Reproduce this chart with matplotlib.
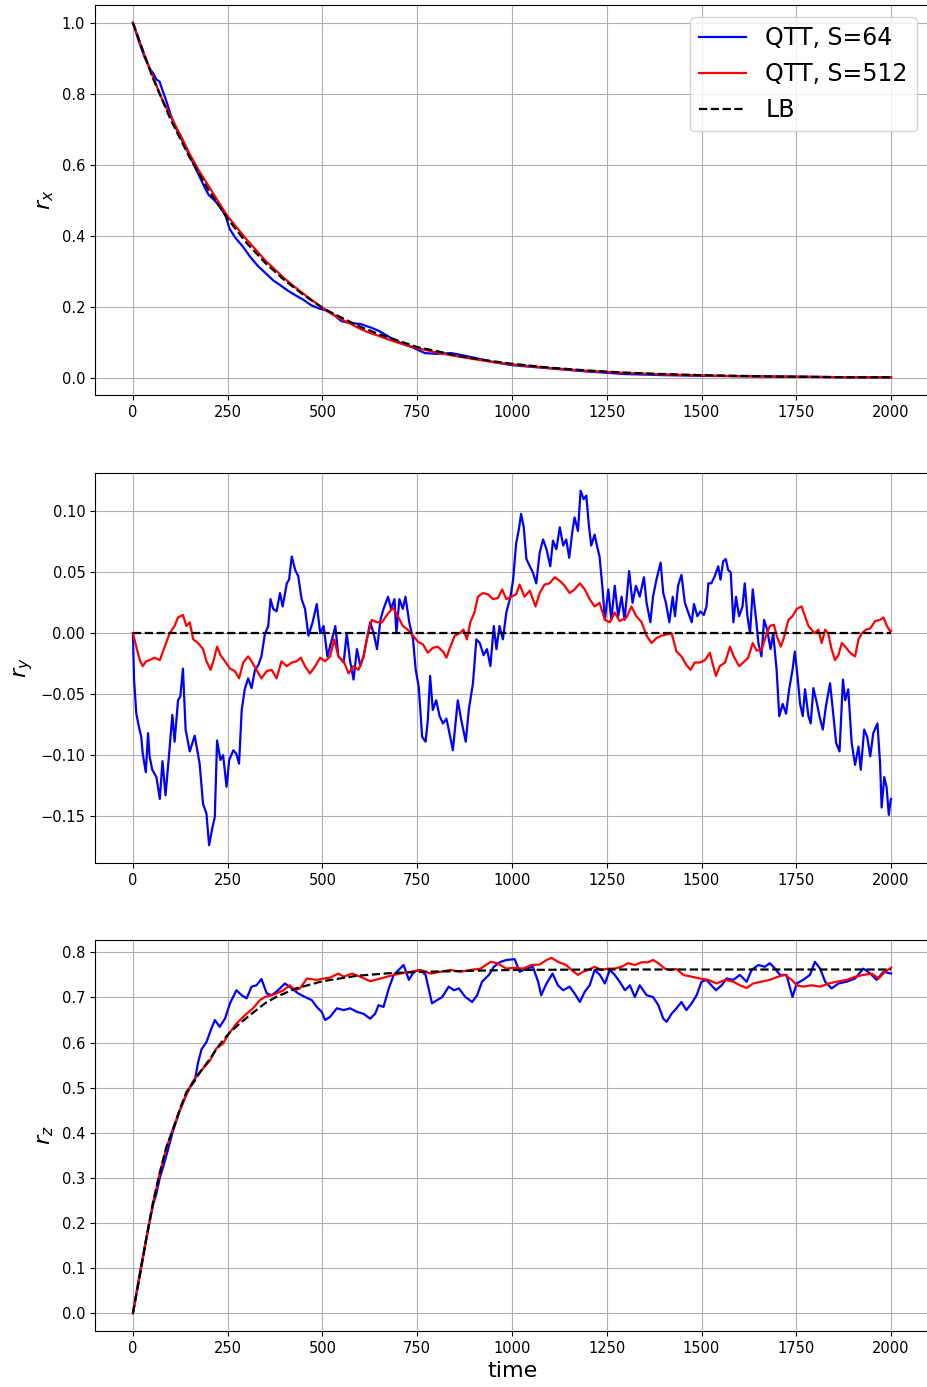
import matplotlib
matplotlib.use("Agg")
import matplotlib.pyplot as plt
import numpy as np

# ---------------- r_x ----------------
t_rx_lb = [0, 50, 100, 150, 200, 250, 300, 350, 400, 450, 500, 550, 600, 650, 700, 750, 800, 850, 900, 950,
           1000, 1100, 1200, 1300, 1400, 1500, 1600, 1700, 1800, 1900, 2000]
rx_lb = [1.0, 0.851, 0.726, 0.62, 0.528, 0.448, 0.380, 0.323, 0.275, 0.234, 0.197, 0.170, 0.144, 0.123, 0.105,
         0.087, 0.076, 0.064, 0.055, 0.047, 0.040, 0.029, 0.021, 0.015, 0.011, 0.008, 0.006, 0.004, 0.003, 0.002, 0.002]

t_rx_64 = [0, 15, 30, 45, 55, 62, 70, 78, 88, 100, 115, 130, 150, 170, 190, 200, 215, 230, 245, 255, 270, 290,
           310, 330, 350, 370, 390, 410, 430, 450, 470, 490, 510, 530, 550, 570, 600, 630, 650, 680, 710, 740,
           770, 800, 840, 870, 900, 950, 1000, 1100, 1200, 1300, 1400, 1500, 1600, 1700, 1800, 1900, 2000]
rx_64 = [1.0, 0.95, 0.905, 0.87, 0.855, 0.84, 0.835, 0.81, 0.78, 0.74, 0.70, 0.668, 0.625, 0.58, 0.535, 0.515,
         0.50, 0.482, 0.455, 0.42, 0.395, 0.37, 0.34, 0.315, 0.295, 0.275, 0.26, 0.245, 0.232, 0.22, 0.205, 0.196,
         0.19, 0.178, 0.16, 0.155, 0.152, 0.141, 0.132, 0.113, 0.097, 0.085, 0.07, 0.068, 0.07, 0.064, 0.057,
         0.045, 0.036, 0.027, 0.018, 0.011, 0.008, 0.006, 0.005, 0.004, 0.003, 0.002, 0.002]

t_rx_512 = [0, 25, 50, 75, 100, 125, 150, 175, 200, 225, 250, 275, 300, 325, 350, 375, 400, 425, 450, 475, 500,
            525, 550, 575, 600, 625, 650, 675, 700, 750, 800, 850, 900, 950, 1000, 1100, 1200, 1300, 1400, 1500,
            1600, 1700, 1800, 1900, 2000]
rx_512 = [1.0, 0.925, 0.855, 0.79, 0.735, 0.685, 0.63, 0.582, 0.54, 0.497, 0.455, 0.422, 0.39, 0.36, 0.33, 0.305,
          0.28, 0.258, 0.237, 0.217, 0.198, 0.18, 0.165, 0.152, 0.138, 0.127, 0.118, 0.108, 0.099, 0.084, 0.072,
          0.062, 0.053, 0.045, 0.038, 0.028, 0.02, 0.014, 0.01, 0.007, 0.005, 0.004, 0.003, 0.002, 0.002]

# ---------------- r_y ----------------
t_ry_lb = [0, 2000]
ry_lb = [0.0, 0.0]

t_ry_64 = [0, 3, 9, 16, 22, 26, 34, 40, 44, 51, 62, 71, 78, 86, 95, 104, 110, 119, 125, 132, 139, 150, 163, 176,
           185, 194, 201, 210, 216, 222, 231, 238, 247, 254, 265, 273, 280, 287, 295, 304, 313, 322, 331, 339,
           348, 357, 363, 370, 379, 388, 395, 406, 412, 419, 428, 436, 445, 454, 463, 474, 485, 494, 503, 513,
           525, 534, 542, 556, 564, 573, 582, 591, 600, 608, 617, 626, 635, 644, 653, 661, 673, 681, 690, 695,
           703, 712, 719, 729, 739, 746, 754, 763, 772, 778, 784, 791, 800, 809, 818, 827, 837, 844, 857, 866,
           878, 886, 897, 906, 915, 925, 934, 943, 952, 959, 967, 976, 985, 996, 1003, 1011, 1018, 1024, 1031,
           1038, 1047, 1055, 1064, 1073, 1082, 1091, 1101, 1108, 1117, 1126, 1135, 1143, 1151, 1159, 1165, 1174,
           1181, 1189, 1196, 1203, 1209, 1218, 1224, 1231, 1239, 1245, 1254, 1262, 1271, 1280, 1289, 1297, 1309,
           1318, 1327, 1337, 1348, 1355, 1365, 1372, 1381, 1392, 1399, 1406, 1415, 1424, 1430, 1438, 1447, 1456,
           1465, 1474, 1480, 1489, 1497, 1506, 1513, 1518, 1526, 1535, 1544, 1550, 1557, 1564, 1570, 1577, 1584,
           1591, 1599, 1608, 1614, 1621, 1628, 1635, 1644, 1650, 1658, 1665, 1673, 1682, 1689, 1698, 1705, 1714,
           1723, 1731, 1740, 1746, 1753, 1760, 1767, 1773, 1782, 1788, 1795, 1804, 1811, 1820, 1828, 1839, 1848,
           1855, 1864, 1873, 1879, 1887, 1896, 1905, 1914, 1920, 1929, 1937, 1945, 1953, 1964, 1971, 1975, 1982,
           1988, 1994, 1999, 2000]
ry_64 = [0.0, -0.038, -0.066, -0.077, -0.085, -0.099, -0.114, -0.082, -0.101, -0.112, -0.118, -0.136, -0.105,
         -0.133, -0.101, -0.067, -0.089, -0.055, -0.052, -0.029, -0.079, -0.097, -0.084, -0.107, -0.14, -0.148,
         -0.174, -0.159, -0.151, -0.088, -0.104, -0.1, -0.126, -0.104, -0.096, -0.099, -0.107, -0.063, -0.046,
         -0.037, -0.045, -0.03, -0.026, -0.019, -0.001, 0.006, 0.028, 0.02, 0.018, 0.033, 0.022, 0.041, 0.044,
         0.063, 0.052, 0.047, 0.028, 0.02, -0.002, 0.009, 0.024, 0.0, 0.006, -0.019, -0.005, 0.006, -0.019,
         -0.024, 0.0, -0.023, -0.038, -0.013, -0.027, -0.019, -0.005, 0.009, 0.0, -0.013, 0.011, 0.02, 0.03,
         0.02, 0.028, 0.0, 0.028, 0.02, 0.03, 0.009, -0.005, -0.03, -0.044, -0.085, -0.089, -0.071, -0.035,
         -0.063, -0.055, -0.068, -0.074, -0.07, -0.085, -0.096, -0.055, -0.071, -0.089, -0.063, -0.041, -0.005,
         -0.008, -0.018, -0.013, -0.027, 0.006, -0.013, 0.006, -0.005, 0.017, 0.03, 0.044, 0.074, 0.085, 0.098,
         0.087, 0.061, 0.055, 0.05, 0.041, 0.066, 0.077, 0.069, 0.055, 0.076, 0.069, 0.087, 0.072, 0.077, 0.062,
         0.083, 0.095, 0.084, 0.117, 0.11, 0.113, 0.088, 0.072, 0.081, 0.072, 0.063, 0.036, 0.011, 0.036, 0.011,
         0.039, 0.014, 0.03, 0.011, 0.051, 0.025, 0.039, 0.03, 0.046, 0.025, 0.009, 0.03, 0.044, 0.058, 0.033,
         0.025, 0.009, 0.03, 0.014, 0.039, 0.048, 0.025, 0.017, 0.009, 0.024, 0.014, 0.018, 0.015, 0.022, 0.041,
         0.041, 0.047, 0.055, 0.044, 0.059, 0.061, 0.052, 0.05, 0.009, 0.03, 0.014, 0.022, 0.041, 0.014, 0.0,
         0.036, 0.011, -0.008, -0.019, 0.011, 0.003, -0.013, 0.0, -0.03, -0.068, -0.058, -0.066, -0.046, -0.03,
         -0.015, -0.035, -0.058, -0.068, -0.046, -0.068, -0.074, -0.045, -0.057, -0.068, -0.079, -0.06, -0.041,
         -0.068, -0.09, -0.097, -0.038, -0.055, -0.046, -0.09, -0.108, -0.093, -0.112, -0.079, -0.085, -0.101,
         -0.082, -0.074, -0.107, -0.143, -0.118, -0.126, -0.149, -0.137, -0.136]

t_ry_512 = [0, 9, 18, 26, 35, 44, 57, 71, 84, 97, 110, 119, 132, 141, 150, 159, 172, 185, 194, 205, 213, 222,
            231, 243, 256, 269, 280, 291, 304, 313, 326, 339, 353, 366, 379, 392, 406, 419, 432, 443, 454, 467,
            481, 494, 507, 520, 531, 542, 556, 569, 582, 595, 608, 617, 630, 644, 657, 670, 686, 699, 712, 725,
            739, 752, 765, 778, 791, 804, 818, 827, 835, 849, 862, 872, 881, 890, 901, 910, 923, 937, 950, 963,
            974, 985, 998, 1011, 1020, 1033, 1047, 1062, 1073, 1086, 1099, 1113, 1126, 1139, 1152, 1165, 1179,
            1192, 1205, 1218, 1231, 1245, 1258, 1271, 1284, 1302, 1315, 1328, 1342, 1355, 1368, 1381, 1394, 1408,
            1421, 1434, 1447, 1460, 1471, 1482, 1496, 1509, 1522, 1531, 1538, 1548, 1562, 1575, 1585, 1599, 1610,
            1623, 1635, 1645, 1658, 1670, 1680, 1691, 1698, 1709, 1717, 1729, 1740, 1751, 1764, 1773, 1782, 1790,
            1799, 1808, 1817, 1826, 1834, 1843, 1852, 1861, 1870, 1879, 1892, 1905, 1914, 1923, 1934, 1945, 1958,
            1971, 1980, 1989, 1997, 2000]
ry_512 = [0.0, -0.011, -0.022, -0.027, -0.023, -0.022, -0.02, -0.022, -0.011, 0.0, 0.006, 0.013, 0.015, 0.006,
          0.009, -0.005, -0.008, -0.013, -0.023, -0.03, -0.022, -0.011, -0.018, -0.023, -0.029, -0.031, -0.037,
          -0.024, -0.019, -0.023, -0.03, -0.037, -0.031, -0.03, -0.037, -0.023, -0.027, -0.024, -0.023, -0.02,
          -0.027, -0.033, -0.027, -0.02, -0.023, -0.019, -0.005, -0.019, -0.023, -0.033, -0.027, -0.03, -0.02,
          -0.005, 0.011, 0.009, 0.009, 0.015, 0.021, 0.014, 0.006, 0.003, -0.002, -0.007, -0.009, -0.016, -0.012,
          -0.011, -0.015, -0.02, -0.013, -0.002, 0.0, 0.003, -0.005, 0.009, 0.017, 0.03, 0.033, 0.032, 0.028,
          0.029, 0.036, 0.028, 0.03, 0.032, 0.04, 0.03, 0.035, 0.022, 0.033, 0.04, 0.041, 0.046, 0.043, 0.039,
          0.033, 0.036, 0.041, 0.036, 0.028, 0.022, 0.025, 0.011, 0.009, 0.017, 0.01, 0.013, 0.022, 0.014, 0.009,
          -0.002, -0.008, -0.004, -0.002, -0.001, 0.0, -0.015, -0.019, -0.026, -0.03, -0.024, -0.024, -0.022,
          -0.016, -0.027, -0.035, -0.027, -0.024, -0.011, -0.019, -0.027, -0.024, -0.02, -0.008, -0.014, -0.014,
          -0.002, 0.006, 0.007, -0.002, -0.011, -0.004, 0.011, 0.014, 0.02, 0.022, 0.014, 0.006, 0.003, 0.0,
          0.003, -0.008, 0.003, 0.0, -0.013, -0.022, -0.018, -0.008, -0.011, -0.016, -0.019, -0.005, 0.0, 0.003,
          0.004, 0.01, 0.011, 0.013, 0.006, 0.002, 0.002]

# ---------------- r_z ----------------
t_rz_lb = [0, 18, 35, 53, 71, 88, 106, 124, 141, 159, 177, 203, 230, 256, 283, 318, 350, 380, 430, 500, 590,
           680, 770, 1000, 1250, 1500, 1750, 2000]
rz_lb = [0.0, 0.083, 0.164, 0.246, 0.312, 0.368, 0.408, 0.453, 0.49, 0.512, 0.534, 0.564, 0.597, 0.623, 0.643,
         0.667, 0.688, 0.702, 0.72, 0.736, 0.748, 0.754, 0.757, 0.761, 0.762, 0.762, 0.762, 0.762]

t_rz_64 = [0, 18, 35, 53, 62, 71, 80, 90, 106, 124, 141, 150, 163, 172, 181, 194, 207, 216, 229, 243, 256, 273,
           287, 300, 313, 326, 339, 353, 366, 379, 401, 419, 436, 454, 472, 485, 498, 507, 520, 538, 556, 573,
           591, 608, 626, 639, 648, 661, 675, 688, 701, 714, 728, 741, 758, 772, 780, 789, 802, 816, 833, 847,
           860, 877, 895, 908, 921, 939, 952, 970, 985, 1007, 1020, 1038, 1055, 1069, 1077, 1091, 1107, 1121,
           1135, 1152, 1165, 1179, 1192, 1205, 1218, 1232, 1245, 1258, 1271, 1284, 1298, 1311, 1324, 1337, 1355,
           1372, 1386, 1399, 1408, 1421, 1434, 1447, 1460, 1474, 1487, 1500, 1513, 1526, 1538, 1553, 1566, 1584,
           1601, 1619, 1632, 1650, 1667, 1680, 1694, 1707, 1724, 1740, 1751, 1768, 1786, 1799, 1813, 1826, 1843,
           1861, 1883, 1905, 1927, 1945, 1962, 1980, 2000]
rz_64 = [0.0, 0.088, 0.165, 0.24, 0.265, 0.3, 0.325, 0.355, 0.405, 0.45, 0.485, 0.5, 0.515, 0.556, 0.585, 0.601,
         0.631, 0.65, 0.635, 0.653, 0.687, 0.716, 0.705, 0.698, 0.724, 0.727, 0.741, 0.709, 0.705, 0.713, 0.731,
         0.72, 0.709, 0.701, 0.694, 0.679, 0.668, 0.65, 0.657, 0.676, 0.672, 0.676, 0.668, 0.664, 0.653, 0.664,
         0.683, 0.679, 0.72, 0.75, 0.761, 0.772, 0.739, 0.757, 0.761, 0.75, 0.72, 0.687, 0.694, 0.701, 0.724,
         0.716, 0.72, 0.701, 0.69, 0.705, 0.735, 0.75, 0.768, 0.779, 0.783, 0.785, 0.757, 0.764, 0.768, 0.735,
         0.705, 0.731, 0.753, 0.727, 0.716, 0.724, 0.709, 0.69, 0.713, 0.727, 0.761, 0.75, 0.731, 0.761, 0.75,
         0.735, 0.716, 0.727, 0.701, 0.727, 0.705, 0.701, 0.683, 0.653, 0.646, 0.664, 0.676, 0.69, 0.672, 0.687,
         0.705, 0.735, 0.739, 0.727, 0.716, 0.727, 0.742, 0.739, 0.75, 0.735, 0.761, 0.772, 0.768, 0.776, 0.764,
         0.75, 0.75, 0.701, 0.731, 0.739, 0.75, 0.779, 0.764, 0.735, 0.72, 0.731, 0.735, 0.742, 0.764, 0.753,
         0.739, 0.757, 0.753]

t_rz_512 = [0, 18, 35, 53, 71, 88, 106, 124, 141, 159, 177, 203, 220, 238, 250, 273, 300, 317, 335, 348, 366,
            379, 397, 414, 428, 441, 459, 485, 503, 520, 542, 556, 578, 600, 626, 653, 679, 705, 732, 758, 785,
            811, 838, 864, 891, 917, 944, 961, 985, 1007, 1029, 1051, 1073, 1091, 1104, 1121, 1143, 1157, 1174,
            1187, 1201, 1218, 1236, 1254, 1271, 1289, 1306, 1324, 1342, 1359, 1372, 1386, 1403, 1416, 1434, 1452,
            1474, 1496, 1518, 1540, 1562, 1584, 1601, 1619, 1636, 1658, 1680, 1702, 1720, 1738, 1751, 1768, 1790,
            1813, 1835, 1857, 1883, 1905, 1927, 1949, 1967, 1984, 2000]
rz_512 = [0.0, 0.082, 0.162, 0.244, 0.31, 0.365, 0.41, 0.45, 0.485, 0.515, 0.535, 0.56, 0.587, 0.598, 0.616,
          0.642, 0.664, 0.676, 0.694, 0.701, 0.705, 0.709, 0.716, 0.727, 0.716, 0.72, 0.742, 0.739, 0.742, 0.744,
          0.753, 0.746, 0.753, 0.746, 0.736, 0.742, 0.748, 0.753, 0.757, 0.761, 0.753, 0.757, 0.761, 0.757,
          0.761, 0.764, 0.779, 0.776, 0.764, 0.766, 0.764, 0.772, 0.773, 0.783, 0.788, 0.779, 0.772, 0.761, 0.75,
          0.757, 0.761, 0.768, 0.761, 0.764, 0.764, 0.768, 0.776, 0.772, 0.778, 0.778, 0.783, 0.776, 0.764,
          0.761, 0.763, 0.75, 0.746, 0.742, 0.739, 0.731, 0.739, 0.735, 0.727, 0.721, 0.731, 0.735, 0.739, 0.746,
          0.75, 0.739, 0.727, 0.724, 0.727, 0.724, 0.731, 0.735, 0.739, 0.746, 0.75, 0.753, 0.742, 0.757, 0.766]

labels = ["QTT, S=64", "QTT, S=512", "LB"]
ylabels = [r"$r_x$", r"$r_y$", r"$r_z$"]

fig = plt.figure(figsize=(9.27, 13.87), dpi=100)
W, H = 927.0, 1387.0
left = 95 / W
width = (929 - 95) / W
boxes = [(5, 395), (473, 863), (940, 1331)]

panels = [
    ((t_rx_64, rx_64), (t_rx_512, rx_512), (t_rx_lb, rx_lb)),
    ((t_ry_64, ry_64), (t_ry_512, ry_512), (t_ry_lb, ry_lb)),
    ((t_rz_64, rz_64), (t_rz_512, rz_512), (t_rz_lb, rz_lb)),
]

axes = []
for i, ((top, bot), data) in enumerate(zip(boxes, panels)):
    ax = fig.add_axes([left, 1 - bot / H, width, (bot - top) / H])
    (tb, yb), (tr, yr), (tl, yl) = data
    ax.plot(tb, yb, color="blue", lw=1.6, label=labels[0])
    ax.plot(tr, yr, color="red", lw=1.6, label=labels[1])
    ax.plot(tl, yl, color="black", ls="--", lw=1.6, label=labels[2])
    ax.grid(True)
    ax.set_xticks([0, 250, 500, 750, 1000, 1250, 1500, 1750, 2000])
    ax.tick_params(labelsize=10.5)
    ax.set_ylabel(ylabels[i], fontsize=16)
    axes.append(ax)

axes[0].legend(loc="upper right", fontsize=17)
axes[2].set_xlabel("time", fontsize=16)

fig.savefig("out.png", dpi=100)
